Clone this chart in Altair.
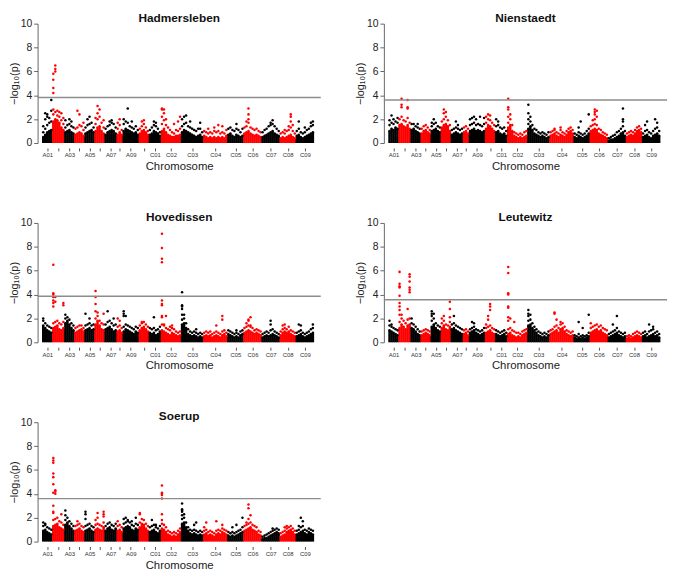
import altair as alt
import pandas as pd

CHROMS = ["A01", "A02", "A03", "A04", "A05", "A06", "A07", "A08", "A09", "A10",
          "C01", "C02", "C03", "C04", "C05", "C06", "C07", "C08", "C09"]
WIDTHS = [5, 6, 5, 5, 5, 5, 6, 3, 8, 5, 6, 10, 11, 12, 8, 9, 9, 8, 9]
SHOWN = ["A01", "A03", "A05", "A07", "A09", "C01", "C02", "C03", "C04",
         "C05", "C06", "C07", "C08", "C09"]

PANELS = ["Hadmersleben", "Nienstaedt", "Hovedissen", "Leutewitz", "Soerup"]
THRESHOLDS = [3.81, 3.60, 3.85, 3.57, 3.60]

# one string per chromosome; each token = one marker column:
# "dense/extra/extra..." values in tenths of -log10(p)
HADMERSLEBEN = [
    "5/9/14 7/12/20/25 9/15/22/24 10/17/21 11/18/27/36",
    "18/24/28/42/46/53/58 20/26/60/62/65 19/23/27 17/22/26 13/19/25 11/16/21",
    "9/13/19 10/15 11/16/20 9/14/18 8/13",
    "7/12 8/13/27 9/15/24 8/14 6/11/17",
    "8/13 9/15/20 10/16/22 11/17 9/13",
    "10/16/21 13/20/25/31 14/22/28 10/17 8/13/19",
    "7/12 9/14 10/15/18 11/17/19 10/16 8/13",
    "7/12/17 9/15/20 7/11",
    "10/16/20 12/18 11/17/29 10/14 9/13/18 8/12 9/14 7/11",
    "8/12 10/14/18 11/16/19 9/13 7/10",
    "7/11 8/13 10/15/18 9/14/17 8/12 6/9",
    "10/16/22/28/29 12/19/25/28 9/15/20 7/13 6/11 5/9 5/8/16 6/11 6/10/18 7/12/22",
    "9/14/20 11/16/22 10/17/23 9/14 8/13/18 7/12 6/11 5/10 6/12 7/12/17 5/9",
    "6/10 5/9 4/8/12 5/9 4/8 5/10/13 4/9 5/10/15 4/8 5/9/14 4/8 6/11",
    "7/12 8/13 6/11 5/10 7/12/16 6/11 5/9 6/12",
    "8/13 9/14/18 10/17/20/24/29 8/13 7/12 6/11 7/12 6/10 5/9",
    "5/9 6/11 7/12 8/14 9/15/17 10/16/19 8/14 7/12 6/10",
    "4/8 5/9 4/8/11 5/10 6/11/14 7/13/18/22/24 5/10/15 4/8",
    "6/10 7/12/18 5/9 4/8 5/9/13 6/11 7/12 8/14/17 9/15/18",
]
NIENSTAEDT = [
    "10/15/19 12/17/23 11/16/20 13/18 12/17/21",
    "15/20 16/22/30/32/37 14/19 13/18 15/21/29/30/36 12/17",
    "11/16 12/16 10/14 9/13/16 8/12",
    "8/12 10/14 11/15 9/13 8/11",
    "10/14/17 11/16/20 12/17 10/14 9/13",
    "13/18 15/20/25/28 16/22/26 14/19 10/15",
    "7/11 8/12 9/13/18 8/12/15 7/11 8/12",
    "9/13 10/14 8/12",
    "10/15/20 11/16/21 12/17/22 10/15/20 11/16 10/15/22 9/14 10/16/21",
    "12/17/22 15/20/24 14/19/23 12/17 10/15",
    "9/14/20 10/15/18 8/13 7/12 8/13 6/10",
    "13/17/22/28/30/37 15/20/24 10/15 6/9 5/8 4/7 5/8 4/7 5/9 6/10",
    "12/16/20/25/32 14/18/22 11/15 8/12 7/11 6/9 5/8 6/9 5/8 4/7 5/9",
    "6/9 7/10 8/11/12 6/9 5/8 7/11/13 6/9 5/8 7/10 9/12 10/13 8/11",
    "5/8 4/7 6/9/13 5/8/18 4/7 5/8 6/10 8/12/24",
    "10/14 11/15/19 12/16/20/24/26/28 11/15/22/27 8/12 7/11 6/9 5/8 4/7",
    "2/4 3/5 3/6 4/7 5/9 6/10 8/12 9/14/18/20/29 6/10",
    "5/8 6/9 7/10 6/9 8/11 10/13 11/14 9/12",
    "5/8 6/10/15 7/11/18 5/9 4/8 6/10 7/12/20 8/13/17 6/10",
]
HOVEDISSEN = [
    "14/18/20 12/16 10/14 9/13 8/12",
    "12/16/30/33/35/38/40/41/65 13/17/34/38 14/18 11/16 10/15 12/17/31/33",
    "16/20/23 18/21 15/19 12/16 10/14",
    "8/12 9/13 10/14 11/14 9/12",
    "10/14/24 11/15 12/16/20 10/14 11/15",
    "15/20/26/32/38/43 18/22/25 14/18 11/16 10/15/24",
    "11/15 12/17/26 13/18 11/16 9/14/20 10/15",
    "9/13/20 10/14/18 8/12",
    "9/13/22/24/26 11/15/22 10/14 9/13 8/12 7/11 9/13 8/12",
    "10/14 12/16/17 13/17 11/15 9/13",
    "8/12 7/11 8/12/21 6/10 7/11 9/13",
    "10/15/21/22/31/32/35/67/70/79/91 9/14/15 8/12/22 7/11 6/10/13 8/12/14 7/11 6/9 5/8 6/9",
    "15/19/23/28/30/31/42 16/20/23 12/16 7/11 6/9 5/8 6/9 5/8/11 4/7 5/8 4/7",
    "5/8 6/9 5/8 6/9 4/7 5/8 6/9/14 5/8 4/7 6/9/19/22 7/10 5/8",
    "7/10 6/9 5/8 4/7 5/8/10 4/7 6/9 7/10",
    "8/12 9/13/16 10/14/18/19 9/13/14/21 8/12 7/10 8/11 7/10 6/9",
    "4/7 5/8 6/9 5/8 6/10/15/18 7/11 6/9 5/8 4/7",
    "6/9 8/11/14 9/12/15 8/11 9/13 7/10 6/9 5/8",
    "5/8 6/9/15 7/10/14 5/8 4/7 5/8 6/9 7/11 8/12/15",
]
LEUTEWITZ = [
    "10/14/18 9/13/15 8/12 7/11 6/10",
    "12/17/23/27/30/33/39/46/47/49/59 15/20/23 13/18 11/16 14/19/28 15/20/42/44/46/51/55/57",
    "12/16/20 11/15 9/13 7/11 6/9",
    "6/9 7/10 8/11 7/10 6/9",
    "13/18/22/24/26 15/20/24 12/16 10/14 9/13",
    "12/16/20 14/18/22 11/15 10/14 13/17/21/28/34",
    "11/15 12/16/22 10/14 9/13 8/12 7/11",
    "7/10 8/11 6/9",
    "8/11 9/12/17 10/13/16 8/11 7/10 6/9 7/10 8/12",
    "8/12/15 9/13/19/22 10/14/27/30/32 8/12 7/11",
    "7/10 6/9 5/8 6/9 7/10 5/8",
    "7/11/18/21/29/30/40/41/58/63 8/12/20 6/10 5/9/17 4/8 5/8 4/7 6/9 7/10 8/11",
    "14/18/22/24/27 15/19/23 12/16 10/13 8/11 6/9 5/8 4/7 5/8 4/7 6/9",
    "7/10 8/11 9/13/24/25 10/14/19 8/12 11/15/17 12/16 9/13 7/10 6/9 5/8 6/9",
    "4/6 3/5 4/7/17 3/5 4/6/12 3/5 4/6 5/8/23",
    "8/12/16 9/13 10/14 11/15 9/13 10/14 8/12 7/11 6/10",
    "4/7 5/8 6/9/15 7/10 8/12/22 6/9 5/8 4/7 5/8",
    "3/5 4/6 3/5 4/7 5/8 6/9 5/8 4/7",
    "5/8 6/9 4/7 5/9/15 6/10 7/11/13 5/8 6/9 4/7",
]
SOERUP = [
    "9/13/16 10/14/15 8/12 7/11 6/10",
    "13/18/24/25/30/41/48/54/57/66/68/70 14/19/40/42/43 15/20 12/17 11/16/23 10/14",
    "14/18/22/26 16/20 13/17 11/15 9/13",
    "9/13 10/14/17 11/15 9/13 8/12",
    "9/13/19/23/25 10/14 11/15 9/13 8/12",
    "10/14/18 11/15/20/24 10/14 9/13 12/16/21/23/25",
    "9/13 11/15 12/16 10/14 9/13 11/15",
    "9/13/17 10/14 8/12",
    "11/15/19 12/16/20 13/17/18 12/16 10/14/17 9/13 11/15/20 10/14",
    "12/16/23/24 15/19 14/18 11/15 9/13",
    "8/12 9/13/18 10/14 8/12/14 7/11 9/13",
    "11/15/18/23/36/39/40/41/47 10/14 8/12 6/9 5/8 4/7 5/8 4/7 6/9 8/11",
    "15/19/22/25/26/27/32 16/20/23 12/16 9/12 7/10 6/9 7/10/14 6/9/16 5/8 6/9 5/8",
    "6/9/12 7/10/16 5/8 6/9 5/8 4/7 6/9/17 7/10 6/9 8/11/14 7/10 6/9",
    "5/8 4/7 5/8/12 4/7 5/8/14 6/9 7/10 8/12/20",
    "9/13 10/14/16 11/15/19/28/31 12/16/22 10/14 9/13 8/12 6/9 5/8",
    "2/4 3/5 3/6 4/7 5/8 6/9/11 7/10 8/11 7/10",
    "4/7 5/8 6/9/12 8/11/13 9/12 10/13 8/11 6/9",
    "6/9 7/10/13 8/12/20 9/13/17 7/10 6/9 8/11 7/10 6/9",
]
DATA = [HADMERSLEBEN, NIENSTAEDT, HOVEDISSEN, LEUTEWITZ, SOERUP]

STARTS = []
acc = 0
for w in WIDTHS:
    STARTS.append(acc)
    acc += w
TOTAL = acc
CENTERS = [s + w / 2 for s, w in zip(STARTS, WIDTHS)]

label_expr = "''"
for c, name in zip(CENTERS, CHROMS):
    if name in SHOWN:
        label_expr = f"abs(datum.value - {c}) < 0.01 ? '{name}' : ({label_expr})"

W, H = 287, 121
FONT = "Liberation Sans"


def frames(cols):
    bulk, pts = [], []
    for k, s in enumerate(cols):
        toks = s.split()
        n = len(toks)
        grp = "a" if k % 2 == 0 else "b"
        for j, t in enumerate(toks):
            x = STARTS[k] + (j + 0.5) * WIDTHS[k] / n
            vals = [int(v) / 10 for v in t.split("/")]
            bulk.append({"pos": x, "p": vals[0], "grp": grp})
            for v in vals:
                pts.append({"pos": x, "p": v, "grp": grp})
    return pd.DataFrame(bulk), pd.DataFrame(pts)


color = alt.Color("grp:N", scale=alt.Scale(domain=["a", "b"], range=["#000000", "#ff0000"]), legend=None)
xscale = alt.Scale(domain=[-2.3, TOTAL + 3.4], nice=False, zero=False)
yscale = alt.Scale(domain=[0, 10], nice=False)

xaxis = alt.Axis(values=CENTERS, labelExpr=label_expr, title="Chromosome", domain=False,
                 tickSize=3, tickColor="#555555", labelFontSize=6, labelColor="#333333",
                 labelPadding=1, offset=5, titleFontSize=11.5, titleFontWeight="normal",
                 titlePadding=3, grid=False, labelOverlap=False, labelFlush=False,
                 labelBound=False, titleColor="#222222")
yaxis = alt.Axis(values=[0, 2, 4, 6, 8, 10], title="−log₁₀(p)", grid=False, tickSize=4,
                 labelFontSize=10.5, titleFontSize=11, titleFontWeight="normal",
                 titlePadding=1, labelPadding=2, domainColor="#666666", tickColor="#666666",
                 labelColor="#222222", titleColor="#222222", labelOverlap=False,
                 labelFlush=False, labelBound=False)


def panel(name, cols, thr):
    bulk, pts = frames(cols)
    bars = alt.Chart(bulk).mark_rule(strokeWidth=2.5).encode(
        x=alt.X("pos:Q", scale=xscale, axis=xaxis),
        y=alt.Y("p:Q", scale=yscale, axis=yaxis),
        y2=alt.Y2(datum=0),
        color=color,
    )
    dots = alt.Chart(pts).mark_circle(size=6.5, opacity=1).encode(
        x=alt.X("pos:Q", scale=xscale, axis=xaxis),
        y=alt.Y("p:Q", scale=yscale, axis=yaxis),
        color=color,
    )
    line = alt.Chart(pd.DataFrame({"p": [thr]})).mark_rule(color="#8c8c8c", strokeWidth=1.5).encode(
        y=alt.Y("p:Q", scale=yscale, axis=yaxis)
    )
    return alt.layer(bars, dots, line).properties(
        width=W, height=H,
        title=alt.TitleParams(text=name, fontSize=12, fontWeight="bold", anchor="middle",
                              offset=-6, frame="group", font=FONT, color="#111111"),
    )


charts = [panel(n, d, t) for n, d, t in zip(PANELS, DATA, THRESHOLDS)]
row1 = alt.hconcat(charts[0], charts[1], spacing=33)
row2 = alt.hconcat(charts[2], charts[3], spacing=33)
chart = alt.vconcat(row1, row2, charts[4], spacing=39).properties(padding=0).configure(
    font=FONT
).configure_view(stroke=None)

chart.save("out.html", embed_options={"renderer": "svg", "actions": False})
